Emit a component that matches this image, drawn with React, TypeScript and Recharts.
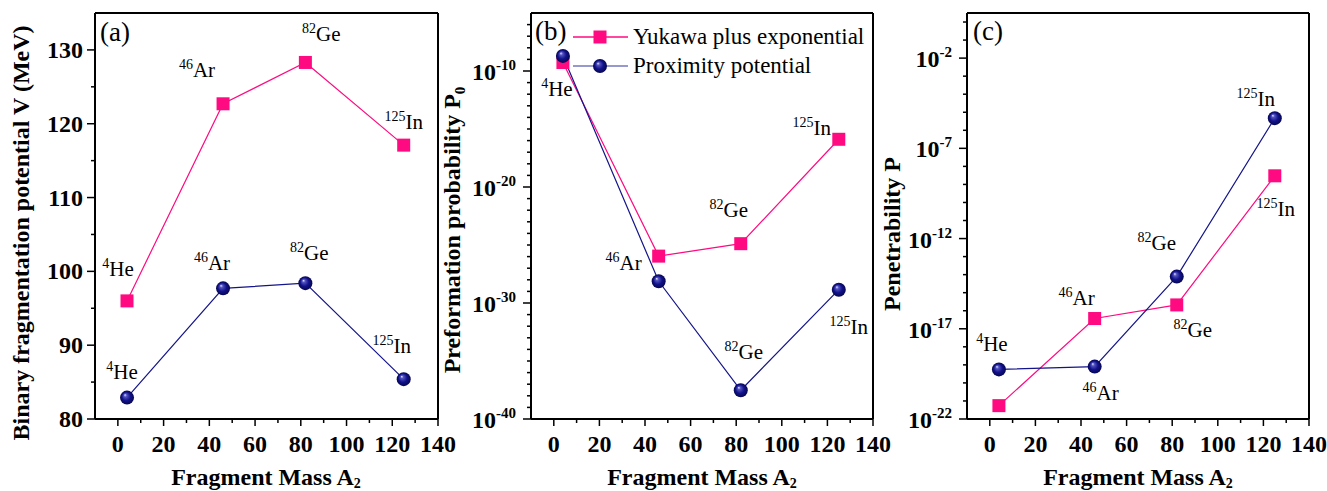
import React from 'react'
import { LineChart, Line, XAxis, YAxis, Legend } from 'recharts'

// fragment masses (x) and their labels
const fragmentMass = [4, 46, 82, 125]
const massLabels = ['4', '46', '82', '125']
const elementLabels = ['He', 'Ar', 'Ge', 'In']

// (a) binary fragmentation potential, MeV
const potentialYukawa = [96.0, 122.7, 128.3, 117.1]
const potentialProximity = [82.9, 97.7, 98.4, 85.4]

// (b) preformation probability
const preformationYukawa = [5.4e-10, 1.1e-26, 1.3e-25, 1.3e-16]
const preformationProximity = [2.0e-9, 7.4e-29, 3.0e-38, 1.4e-29]

// (c) penetrability
const penetrabilityYukawa = [5.5e-22, 3.7e-17, 2.1e-16, 3.0e-9]
const penetrabilityProximity = [5.6e-20, 8.0e-20, 7.8e-15, 4.7e-6]

const xTicks = [0, 10, 20, 30, 40, 50, 60, 70, 80, 90, 100, 110, 120, 130, 140]
const xTicksTop = [-10, ...xTicks]
const yTicksA = [80, 85, 90, 95, 100, 105, 110, 115, 120, 125, 130]
const expB = [-40, -39, -38, -37, -36, -35, -34, -33, -32, -31, -30, -29, -28, -27, -26, -25, -24, -23, -22, -21, -20, -19, -18, -17, -16, -15, -14, -13, -12, -11, -10, -9, -8, -7, -6]
const expC = [-22, -21, -20, -19, -18, -17, -16, -15, -14, -13, -12, -11, -10, -9, -8, -7, -6, -5, -4, -3, -2, -1, 0]
const yTicksB = expB.map((e) => Number('1e' + e))
const yTicksC = expC.map((e) => Number('1e' + e))

const PINK = '#FF0A80'
const NAVY = '#14148A'
const FONT = '"Liberation Serif", "Times New Roman", serif'

const rows = (yuk: number[], prox: number[]) =>
  fragmentMass.map((m, i) => ({ mass: m, yuk: yuk[i], prox: prox[i] }))

const dataA = rows(potentialYukawa, potentialProximity)
const dataB = rows(preformationYukawa, preformationProximity)
const dataC = rows(penetrabilityYukawa, penetrabilityProximity)

// label offsets (px) from each point: [dx to label centre, dy to baseline]
type Off = ([number, number] | null)[]
const offsetsA: Record<string, Off> = {
  yuk: [[-9, -25], [-26, -27], [16, -21], [0, -16]],
  prox: [[-5, -19], [-11, -18], [4, -23], [-12, -26]],
}
const offsetsB: Record<string, Off> = {
  yuk: [[-6, 33], null, [-12, -27], [-27, -4]],
  prox: [null, [-35, -11], [3, -31], [10, 44]],
}
const offsetsC: Record<string, Off> = {
  yuk: [null, [-18, -14], [16, 32], [1, 40]],
  prox: [[-7, -18], [6, 33], [-20, -27], [-19, -12]],
}

function Square({ cx, cy, s = 13 }: { cx: number; cy: number; s?: number }) {
  return <rect x={cx - s / 2} y={cy - s / 2} width={s} height={s} fill={PINK} />
}

function Ball({ cx, cy, r = 7 }: { cx: number; cy: number; r?: number }) {
  return <circle cx={cx} cy={cy} r={r} fill="url(#ballGrad)" />
}

function makeDot(series: 'yuk' | 'prox', offsets: Record<string, Off>) {
  return (p: any) => {
    const { cx, cy, index } = p
    const off = offsets[series][index]
    return (
      <g key={series + index}>
        {series === 'yuk' ? <Square cx={cx} cy={cy} /> : <Ball cx={cx} cy={cy} />}
        {off && (
          <text x={cx + off[0]} y={cy + off[1]} textAnchor="middle" fontFamily={FONT} fontSize={21} fill="#000">
            <tspan fontSize={14} dy={-8}>{massLabels[index]}</tspan>
            <tspan dy={8}>{elementLabels[index]}</tspan>
          </text>
        )}
      </g>
    )
  }
}

const xTick = (p: any) => {
  const v = p.payload.value
  const major = v % 20 === 0
  return (
    <g>
      <line x1={p.x} y1={p.y} x2={p.x} y2={p.y + (major ? 7 : 4)} stroke="#000" strokeWidth={1.5} />
      {major && (
        <text x={p.x} y={p.y + 33} textAnchor="middle" fontFamily={FONT} fontWeight="bold" fontSize={24} fill="#000">
          {v}
        </text>
      )}
    </g>
  )
}

const linearYTick = (p: any) => {
  const v = p.payload.value
  const major = v % 10 === 0
  return (
    <g>
      <line x1={p.x - (major ? 8 : 4)} y1={p.y} x2={p.x} y2={p.y} stroke="#000" strokeWidth={1.5} />
      {major && (
        <text x={p.x - 12} y={p.y + 8} textAnchor="end" fontFamily={FONT} fontWeight="bold" fontSize={24} fill="#000">
          {v}
        </text>
      )}
    </g>
  )
}

const logYTick = (majors: number[]) => (p: any) => {
  const e = Math.round(Math.log10(p.payload.value))
  const major = majors.includes(e)
  return (
    <g>
      <line x1={p.x - (major ? 8 : 4)} y1={p.y} x2={p.x} y2={p.y} stroke="#000" strokeWidth={1.5} />
      {major && (
        <text x={p.x - 15} y={p.y + 9} textAnchor="end" fontFamily={FONT} fontWeight="bold" fontSize={24} fill="#000">
          <tspan>10</tspan>
          <tspan fontSize={15} dy={-10}>{e}</tspan>
        </text>
      )}
    </g>
  )
}

const renderLegend = () => (
  <div style={{ fontFamily: FONT, fontSize: 23, color: '#000' }}>
    {[
      { name: 'Yukawa plus exponential', kind: 'yuk' },
      { name: 'Proximity potential', kind: 'prox' },
    ].map((it) => (
      <div key={it.kind} style={{ display: 'flex', alignItems: 'center', height: 29, whiteSpace: 'nowrap' }}>
        <svg width={55} height={20} style={{ marginRight: 5 }}>
          <line x1={0} y1={10} x2={55} y2={10} stroke={it.kind === 'yuk' ? PINK : '#7676C0'} strokeWidth={1.5} />
          {it.kind === 'yuk' ? <Square cx={27} cy={10} /> : <Ball cx={27} cy={10} />}
        </svg>
        <span>{it.name}</span>
      </div>
    ))}
  </div>
)

const axisLine = { stroke: '#000', strokeWidth: 2 }

function Panel(props: {
  left: number
  width: number
  yWidth: number
  rightMargin: number
  data: any[]
  log: boolean
  domain: [number, number]
  yTicks: number[]
  yTick: any
  offsets: Record<string, Off>
  legendLeft?: number
}) {
  const { left, width, yWidth, rightMargin, data, log, domain, yTicks, yTick, offsets, legendLeft } = props
  return (
    <div style={{ position: 'absolute', left, top: 0 }}>
      <LineChart width={width} height={491} data={data} margin={{ top: 10, right: rightMargin, bottom: 0, left: 0 }}>
        <XAxis dataKey="mass" type="number" domain={[-10, 140]} ticks={xTicks} interval={0} height={72}
          tickSize={0} tickMargin={0} tickLine={false} tick={xTick} axisLine={axisLine} allowDataOverflow />
        <XAxis xAxisId="top" orientation="top" type="number" domain={[-10, 140]} ticks={xTicksTop} interval={0}
          height={3} tickSize={2} tick={false} tickLine={{ stroke: '#000' }} axisLine={axisLine} allowDataOverflow />
        <YAxis type="number" scale={log ? 'log' : 'linear'} domain={domain} ticks={yTicks} interval={0} width={yWidth}
          tickSize={0} tickMargin={0} tickLine={false} tick={yTick} axisLine={axisLine} allowDataOverflow />
        <YAxis yAxisId="right" orientation="right" type="number" scale={log ? 'log' : 'linear'} domain={domain}
          ticks={yTicks} interval={0} width={3} tickSize={2} tick={false} tickLine={{ stroke: '#000' }}
          axisLine={axisLine} allowDataOverflow />
        <Line dataKey="yuk" name="Yukawa plus exponential" type="linear" stroke={PINK} strokeWidth={1.2}
          dot={makeDot('yuk', offsets)} activeDot={false} isAnimationActive={false} />
        <Line dataKey="prox" name="Proximity potential" type="linear" stroke={NAVY} strokeWidth={1.2}
          dot={makeDot('prox', offsets)} activeDot={false} isAnimationActive={false} />
        {legendLeft !== undefined && (
          <Legend layout="vertical" align="center" verticalAlign="middle" content={renderLegend}
            wrapperStyle={{ left: legendLeft, top: 22, width: 320, height: 60 }} />
        )}
      </LineChart>
    </div>
  )
}

const SubA = () => <tspan fontSize={14} dy={3}>2</tspan>

export default function App() {
  const title = { fontFamily: FONT, fontWeight: 'bold' as const, fontSize: 24, fill: '#000' }
  return (
    <div style={{ position: 'absolute', left: 0, top: 0, width: 1327, height: 491, background: '#fff' }}>
      <svg width={0} height={0} style={{ position: 'absolute' }}>
        <defs>
          <radialGradient id="ballGrad" cx="0.5" cy="0.5" r="0.5" fx="0.35" fy="0.3">
            <stop offset="0%" stopColor="#E6E6FF" />
            <stop offset="22%" stopColor="#5252C0" />
            <stop offset="60%" stopColor="#12128C" />
            <stop offset="100%" stopColor="#06064E" />
          </radialGradient>
        </defs>
      </svg>
      <Panel left={0} width={465} yWidth={95} rightMargin={24} data={dataA} log={false} domain={[80, 135]}
        yTicks={yTicksA} yTick={linearYTick} offsets={offsetsA} />
      <Panel left={430} width={470} yWidth={101} rightMargin={24} data={dataB} log domain={[1e-40, 1e-5]}
        yTicks={yTicksB} yTick={logYTick([-40, -30, -20, -10])} offsets={offsetsB} legendLeft={143} />
      <Panel left={870} width={457} yWidth={97} rightMargin={15} data={dataC} log domain={[1e-22, Math.pow(10, 0.5)]}
        yTicks={yTicksC} yTick={logYTick([-22, -17, -12, -7, -2])} offsets={offsetsC} />
      <svg width={1327} height={491} style={{ position: 'absolute', left: 0, top: 0, pointerEvents: 'none' }}>
        <text x={100} y={41} fontFamily={FONT} fontSize={27}>(a)</text>
        <text x={535} y={40} fontFamily={FONT} fontSize={27}>(b)</text>
        <text x={973} y={40} fontFamily={FONT} fontSize={27}>(c)</text>
        <text {...title} x={266} y={485} textAnchor="middle">Fragment Mass A<SubA /></text>
        <text {...title} x={702} y={485} textAnchor="middle">Fragment Mass A<SubA /></text>
        <text {...title} x={1138} y={485} textAnchor="middle">Fragment Mass A<SubA /></text>
        <text {...title} transform="translate(29,233) rotate(-90)" textAnchor="middle">
          Binary fragmentation potential V (MeV)
        </text>
        <text {...title} transform="translate(460,230) rotate(-90)" textAnchor="middle">
          Preformation probability P<tspan fontSize={15} dy={5}>0</tspan>
        </text>
        <text {...title} transform="translate(900,234) rotate(-90)" textAnchor="middle">
          Penetrability P
        </text>
      </svg>
    </div>
  )
}
